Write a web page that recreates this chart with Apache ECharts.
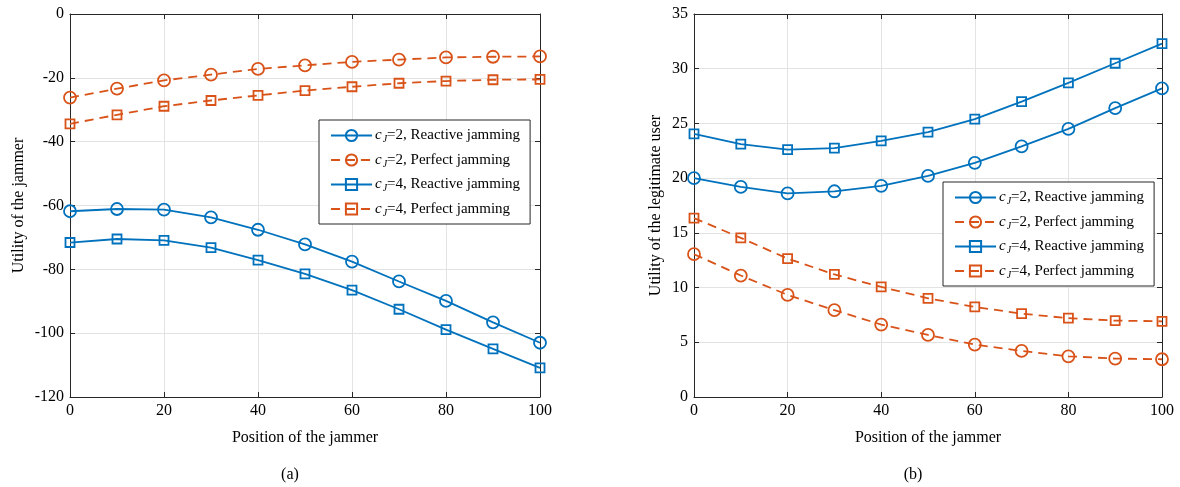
<!DOCTYPE html>
<html>
<head>
<meta charset="utf-8">
<title>Jammer utility</title>
<script src="https://cdn.jsdelivr.net/npm/echarts@6/dist/echarts.min.js"></script>
<style>
  html, body { margin: 0; padding: 0; background: #fff; }
  #main { width: 1180px; height: 487px; }
</style>
</head>
<body>
<div id="main"></div>
<script>
// positions of the jammer (x axis)
var positions = [0, 10, 20, 30, 40, 50, 60, 70, 80, 90, 100]

// (a) utility of the jammer
var jamC2Reactive = [-61.8, -61.1, -61.3, -63.7, -67.6, -72.2, -77.6, -83.8, -89.9, -96.6, -103.0]
var jamC2Perfect = [-26.2, -23.4, -20.8, -19.0, -17.2, -16.1, -15.0, -14.3, -13.6, -13.4, -13.3]
var jamC4Reactive = [-71.6, -70.5, -70.9, -73.2, -77.1, -81.4, -86.5, -92.5, -98.9, -104.9, -110.9]
var jamC4Perfect = [-34.4, -31.6, -28.9, -27.1, -25.5, -24.0, -22.8, -21.7, -21.0, -20.6, -20.5]

// (b) utility of the legitimate user
var userC2Reactive = [20.0, 19.2, 18.6, 18.8, 19.3, 20.2, 21.4, 22.9, 24.5, 26.4, 28.2]
var userC2Perfect = [13.05, 11.1, 9.33, 7.93, 6.62, 5.67, 4.79, 4.21, 3.72, 3.51, 3.45]
var userC4Reactive = [24.05, 23.1, 22.6, 22.75, 23.4, 24.2, 25.4, 27.0, 28.7, 30.5, 32.3]
var userC4Perfect = [16.35, 14.54, 12.65, 11.2, 10.06, 9.02, 8.23, 7.62, 7.2, 6.98, 6.92]

var seriesNames = ['c2r', 'c2p', 'c4r', 'c4p']
var legendLabels = {
  c2r: '{c|c}{j|J}=2, Reactive jamming',
  c2p: '{c|c}{j|J}=2, Perfect jamming',
  c4r: '{c|c}{j|J}=4, Reactive jamming',
  c4p: '{c|c}{j|J}=4, Perfect jamming'
}

var BLUE = '#0072BD'
var ORANGE = '#D95319'
var FONT = '"Liberation Serif", "Times New Roman", serif'
var AXIS_COLOR = '#262626'

function pairs (ys) {
  return positions.map(function (x, i) { return [x, ys[i]] })
}

function makeSeries (name, ys, gridIdx) {
  var perfect = name.charAt(2) === 'p'
  var square = name.charAt(1) === '4'
  var color = perfect ? ORANGE : BLUE
  return {
    name: name,
    type: 'line',
    xAxisIndex: gridIdx * 2,
    yAxisIndex: gridIdx * 2,
    data: pairs(ys),
    symbol: square ? 'rect' : 'circle',
    symbolSize: square ? 9 : 12,
    showAllSymbol: true,
    smooth: false,
    lineStyle: {
      color: color,
      width: 1.8,
      type: perfect ? [9, 6] : 'solid'
    },
    itemStyle: {
      color: 'transparent',
      borderColor: color,
      borderWidth: 1.8
    },
    emphasis: { disabled: true },
    animation: false,
    z: 3
  }
}

function mainX (gridIdx) {
  return {
    type: 'value',
    gridIndex: gridIdx,
    min: 0,
    max: 100,
    interval: 20,
    name: 'Position of the jammer',
    nameLocation: 'middle',
    nameGap: 33,
    nameTextStyle: { fontFamily: FONT, fontSize: 16, color: '#000' },
    axisLine: { show: true, onZero: false, lineStyle: { color: AXIS_COLOR, width: 1 } },
    axisTick: { show: true, inside: true, length: 5, lineStyle: { color: AXIS_COLOR } },
    axisLabel: { fontFamily: FONT, fontSize: 16, color: '#000', margin: 6 },
    splitLine: { show: true, lineStyle: { color: '#e3e3e3', width: 1 } }
  }
}

function mirrorX (gridIdx) {
  return {
    type: 'value',
    gridIndex: gridIdx,
    position: 'top',
    min: 0,
    max: 100,
    interval: 20,
    axisLine: { show: true, onZero: false, lineStyle: { color: AXIS_COLOR, width: 1 } },
    axisTick: { show: true, inside: true, length: 5, lineStyle: { color: AXIS_COLOR } },
    axisLabel: { show: false },
    splitLine: { show: false }
  }
}

function mainY (gridIdx, min, max, interval, name, gap) {
  return {
    type: 'value',
    gridIndex: gridIdx,
    min: min,
    max: max,
    interval: interval,
    name: name,
    nameLocation: 'middle',
    nameGap: gap,
    nameTextStyle: { fontFamily: FONT, fontSize: 16, color: '#000' },
    axisLine: { show: true, onZero: false, lineStyle: { color: AXIS_COLOR, width: 1 } },
    axisTick: { show: true, inside: true, length: 5, lineStyle: { color: AXIS_COLOR } },
    axisLabel: { fontFamily: FONT, fontSize: 16, color: '#000', margin: 6 },
    splitLine: { show: true, lineStyle: { color: '#e3e3e3', width: 1 } }
  }
}

function mirrorY (gridIdx, min, max, interval) {
  return {
    type: 'value',
    gridIndex: gridIdx,
    position: 'right',
    min: min,
    max: max,
    interval: interval,
    axisLine: { show: true, onZero: false, lineStyle: { color: AXIS_COLOR, width: 1 } },
    axisTick: { show: true, inside: true, length: 5, lineStyle: { color: AXIS_COLOR } },
    axisLabel: { show: false },
    splitLine: { show: false }
  }
}

function makeLegend (left, top) {
  return {
    orient: 'vertical',
    left: left,
    top: top,
    data: seriesNames,
    itemWidth: 41,
    itemHeight: 14,
    itemGap: 8,
    padding: [8, 10, 6, 11],
    borderColor: AXIS_COLOR,
    borderWidth: 1,
    backgroundColor: '#fff',
    selectedMode: false,
    formatter: function (name) { return legendLabels[name] },
    textStyle: {
      fontFamily: FONT,
      fontSize: 15,
      color: '#000',
      padding: [0, 0, 0, -2],
      rich: {
        c: { fontFamily: FONT, fontSize: 15, fontStyle: 'italic', color: '#000', padding: [0, 1, 0, 0] },
        j: { fontFamily: FONT, fontSize: 10, fontStyle: 'italic', color: '#000', padding: [8, 0, 0, 0] }
      }
    },
    z: 10
  }
}

var chart = echarts.init(document.getElementById('main'), null, { renderer: 'canvas' })

var option = {
  backgroundColor: '#fff',
  animation: false,
  title: [
    { text: '(a)', left: 285, top: 462, textAlign: 'center',
      textStyle: { fontFamily: FONT, fontSize: 16, fontWeight: 'normal', color: '#000' } },
    { text: '(b)', left: 908, top: 462, textAlign: 'center',
      textStyle: { fontFamily: FONT, fontSize: 16, fontWeight: 'normal', color: '#000' } }
  ],
  grid: [
    { left: 70, top: 14, width: 470, height: 383 },
    { left: 694, top: 14, width: 468, height: 383 }
  ],
  legend: [makeLegend(319, 120), makeLegend(943, 182)],
  xAxis: [mainX(0), mirrorX(0), mainX(1), mirrorX(1)],
  yAxis: [
    mainY(0, -120, 0, 20, 'Utility of the jammer', 43),
    mirrorY(0, -120, 0, 20),
    mainY(1, 0, 35, 5, 'Utility of the legitimate user', 30),
    mirrorY(1, 0, 35, 5)
  ],
  series: [
    makeSeries('c2r', jamC2Reactive, 0),
    makeSeries('c2p', jamC2Perfect, 0),
    makeSeries('c4r', jamC4Reactive, 0),
    makeSeries('c4p', jamC4Perfect, 0),
    makeSeries('c2r', userC2Reactive, 1),
    makeSeries('c2p', userC2Perfect, 1),
    makeSeries('c4r', userC4Reactive, 1),
    makeSeries('c4p', userC4Perfect, 1)
  ]
}

chart.setOption(option)
</script>
</body>
</html>
